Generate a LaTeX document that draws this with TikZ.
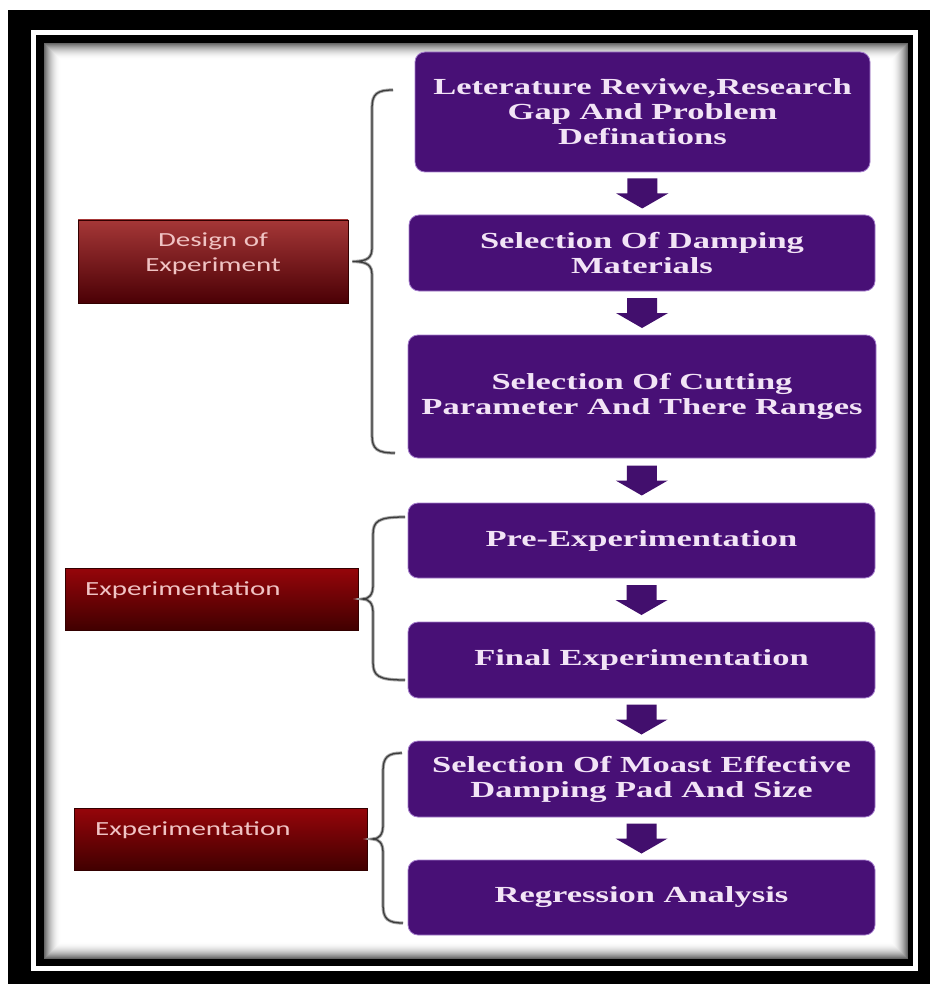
\documentclass[tikz,border=0pt]{standalone}
\usepackage{fontspec}
\setmainfont{Liberation Serif}
\newfontfamily\pfont[FakeStretch=1.5]{Liberation Serif}
\newfontfamily\rfont[FakeStretch=1.45]{Carlito}
\usetikzlibrary{calc}
\definecolor{purp}{RGB}{72,16,118}
\definecolor{purpedge}{RGB}{165,125,205}
\definecolor{purptext}{RGB}{242,228,246}
\definecolor{redtop}{RGB}{165,55,55}
\definecolor{redbot}{RGB}{75,0,5}
\definecolor{redtwotop}{RGB}{150,5,10}
\definecolor{redtwobot}{RGB}{65,0,0}
\definecolor{labtext}{RGB}{240,195,195}
\definecolor{bracecol}{RGB}{60,60,60}
\tikzset{
 pbox/.style={rectangle, rounded corners=10pt, fill=purp, draw=purpedge, line width=0.8pt, inner sep=0pt, align=center, text=purptext, font=\pfont\bfseries\fontsize{23}{25}\selectfont},
 rbox/.style={rectangle, draw=black!80!red, line width=0.8pt, inner sep=0pt},
 rtext/.style={inner sep=0pt, text=labtext, font=\rfont\fontsize{20}{25}\selectfont, align=center},
 braceshadow/.style={draw=black!35, line width=3.2pt},
 bracestyle/.style={draw=bracecol, line width=1.3pt},
 arrowfill/.style={fill=purp!92!black},
}
\newcommand\blockarrow[2]{%
 \path ($(#1.south)!0.5!(#2.north)$) coordinate (am);
 \fill[arrowfill] ($(am)+(-15,-15)$) -- ($(am)+(15,-15)$) -- ($(am)+(15,0)$) -- ($(am)+(26,0)$) -- ($(am)+(0,15)$) -- ($(am)+(-26,0)$) -- ($(am)+(-15,0)$) -- cycle;}
\newcommand\bracedraw[7]{%
 \foreach \bst in {braceshadow,bracestyle}{
 \draw[\bst] (#1) .. controls (#4+5,#5) and (#4,#5+4) .. (#4,#5+18) -- (#4,#6-14) .. controls (#4,#6-4) and (#4-4,#6) .. (#2) .. controls (#4-4,#6) and (#4,#6+4) .. (#4,#6+14) -- (#4,#7-18) .. controls (#4,#7-4) and (#4+5,#7) .. (#3);}}
\begin{document}
\begin{tikzpicture}[x=1pt,y=-1pt]
\useasboundingbox (0,0) rectangle (930,984);
\fill[white] (0,0) rectangle (930,984);
% frame
\fill[black] (8,10) rectangle (930,984);
\fill[white] (31,30) rectangle (918,971);
\fill[black] (36,35) rectangle (913,966);
\fill[white] (44,43) rectangle (908,959);
\foreach \i [evaluate=\i as \op using {0.6*(1-\i/17)^2}] in {0,...,16}{
  \draw[black, opacity=\op, line width=1pt] (44.5+\i,43.5+\i) rectangle (907.5-\i,958.5-\i);
}
% purple boxes
\node[pbox, minimum width=455pt, minimum height=120pt] (b1) at (642.5,112) {Leterature Reviwe,Research\\Gap And Problem\\Definations};
\node[pbox, minimum width=466pt, minimum height=76pt] (b2) at (642,253) {Selection Of Damping\\Materials};
\node[pbox, minimum width=468pt, minimum height=123pt] (b3) at (642,396.5) {Selection Of Cutting\\Parameter And There Ranges};
\node[pbox, minimum width=467pt, minimum height=75pt] (b4) at (641.5,540.5) {Pre-Experimentation};
\node[pbox, minimum width=467pt, minimum height=76pt] (b5) at (641.5,660) {Final Experimentation};
\node[pbox, minimum width=467pt, minimum height=76pt] (b6) at (641.5,779) {Selection Of Moast Effective\\Damping Pad And Size};
\node[pbox, minimum width=467pt, minimum height=75pt] (b7) at (641.5,897.5) {Regression Analysis};
% arrows
\blockarrow{b1}{b2}
\blockarrow{b2}{b3}
\blockarrow{b3}{b4}
\blockarrow{b4}{b5}
\blockarrow{b5}{b6}
\blockarrow{b6}{b7}
% red boxes
\node[rbox, top color=redtop, bottom color=redbot, minimum width=270pt, minimum height=83pt] (rA) at (213,261.5) {};
\node[rbox, top color=redtwotop, bottom color=redtwobot, minimum width=293pt, minimum height=62pt] (rB) at (211.5,599) {};
\node[rbox, top color=redtwotop, bottom color=redtwobot, minimum width=293pt, minimum height=62pt] (rC) at (220.5,839) {};
\node[rtext] (tA) at (213,254) {Design of\\Experiment};
\node[rtext, anchor=base west] (tB) at (85,595) {Experimentation};
\node[rtext, anchor=base west] (tC) at (95,835) {Experimentation};
% braces
\coordinate (t1) at (393,90);
\coordinate (m1) at ($(rA.east)+(4,0)$);
\coordinate (e1) at (395,453);
\coordinate (t2) at (405,517);
\coordinate (m2) at ($(rB.east)+(4,0)$);
\coordinate (e2) at (405,680);
\coordinate (t3) at (402,753);
\coordinate (m3) at ($(rC.east)+(5,0)$);
\coordinate (e3) at (403,923);
\bracedraw{t1}{m1}{e1}{372}{90}{261.5}{453}
\bracedraw{t2}{m2}{e2}{373}{517}{599}{680}
\bracedraw{t3}{m3}{e3}{383}{753}{839}{923}
\end{tikzpicture}
\end{document}
